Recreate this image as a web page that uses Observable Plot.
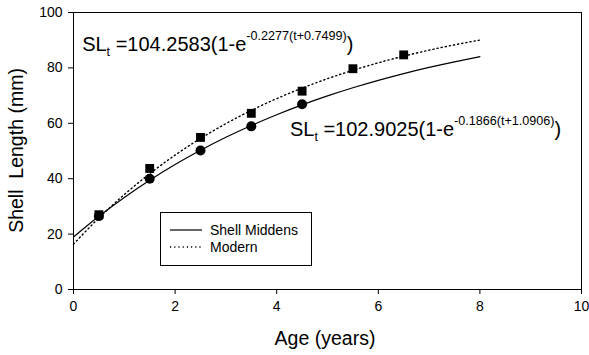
<!DOCTYPE html>
<html><head><meta charset="utf-8">
<script src="https://cdn.jsdelivr.net/npm/d3@7"></script>
<script src="https://cdn.jsdelivr.net/npm/@observablehq/plot@0.6"></script>
<style>html,body{margin:0;padding:0;overflow:hidden;background:#fff}</style>
</head><body><div id="chart"></div>
<script>
// Observed mean shell lengths (mm) by age (years)
const ages = [0.5, 1.5, 2.5, 3.5, 4.5, 5.5, 6.5];
const middensLength = [26.5, 40.0, 50.2, 58.9, 66.9];
const modernLength = [27.0, 43.7, 54.9, 63.6, 71.6, 79.7, 84.7];
// Fitted growth curves
const curveAges = [0, 0.5, 1, 1.5, 2, 2.5, 3, 3.5, 4, 4.5, 5, 5.5, 6, 6.5, 7, 7.5, 8];
const middensFit = [18.95, 26.43, 33.24, 39.45, 45.10, 50.24, 54.94, 59.21, 63.10, 66.65, 69.88, 72.82, 75.50, 77.94, 80.17, 82.19, 84.04];
const modernFit = [16.37, 25.82, 34.26, 41.80, 48.52, 54.52, 59.87, 64.67, 68.91, 72.71, 76.11, 79.14, 81.84, 84.25, 86.41, 88.33, 90.04];
const xTicks = [0, 2, 4, 6, 8, 10];
const yTicks = [0, 20, 40, 60, 80, 100];
const seriesNames = ["Shell Middens", "Modern"];
const xTitle = "Age (years)";
const yTitle = "Shell  Length (mm)";
const equations = [
  {coef: "104.2583", exp: "-0.2277(t+0.7499)", t: 0.18, v: 86.0},
  {coef: "102.9025", exp: "-0.1866(t+1.0906)", t: 4.27, v: 55.2}
];

const middensPts = middensLength.map((v, i) => ({age: ages[i], len: v}));
const modernPts = modernLength.map((v, i) => ({age: ages[i], len: v}));
const middensCurve = curveAges.map((a, i) => ({age: a, len: middensFit[i]}));
const modernCurve = curveAges.map((a, i) => ({age: a, len: modernFit[i]}));

const FONT = "'Liberation Sans', Arial, sans-serif";

const chart = Plot.plot({
  width: 589, height: 355,
  marginLeft: 73, marginRight: 8, marginTop: 12, marginBottom: 66,
  style: {fontFamily: FONT, fontSize: "14px", color: "black", background: "white"},
  x: {domain: [0, 10]},
  y: {domain: [0, 100]},
  marks: [
    Plot.frame({stroke: "black", strokeWidth: 1}),
    Plot.axisX({ticks: xTicks, tickSize: 5, tickPadding: 7, label: null, fontSize: 14}),
    Plot.axisY({ticks: yTicks, tickSize: 5, tickPadding: 6, label: null, fontSize: 14}),
    Plot.line(middensCurve, {x: "age", y: "len", stroke: "black", strokeWidth: 1.2, curve: "monotone-x"}),
    Plot.line(modernCurve, {x: "age", y: "len", stroke: "black", strokeWidth: 1.4, strokeDasharray: "1.2,3", curve: "monotone-x"}),
    Plot.dot(modernPts, {x: "age", y: "len", symbol: "square", r: 5, fill: "black", stroke: null}),
    Plot.dot(middensPts, {x: "age", y: "len", symbol: "circle", r: 5, fill: "black", stroke: null})
  ]
});
document.getElementById("chart").appendChild(chart);

const sx = chart.scale("x"), sy = chart.scale("y");
const svg = d3.select(chart);

// Axis titles
svg.append("text").attr("x", (sx.apply(0) + sx.apply(10)) / 2 - 2).attr("y", 345)
  .attr("text-anchor", "middle").attr("font-size", 19.5).attr("font-family", FONT).attr("fill", "black").text(xTitle);
svg.append("text").attr("transform", `translate(23,${(sy.apply(0) + sy.apply(100)) / 2}) rotate(-90)`)
  .attr("text-anchor", "middle").attr("font-size", 19.5).attr("font-family", FONT).attr("fill", "black")
  .style("white-space", "pre").text(yTitle);

// Equations
for (const eq of equations) {
  const t = svg.append("text").attr("x", sx.apply(eq.t)).attr("y", sy.apply(eq.v))
    .attr("text-anchor", "start")
    .attr("font-family", FONT).attr("font-size", 20).attr("fill", "black");
  t.append("tspan").text("SL");
  t.append("tspan").attr("font-size", 12.5).attr("dy", 5).text("t");
  t.append("tspan").attr("dy", -5).text("\u00a0=" + eq.coef + "(1-e");
  t.append("tspan").attr("font-size", 12.6).attr("dy", -11).text(eq.exp);
  t.append("tspan").attr("dy", 11).text(")");
}

// Legend
const lg = svg.append("g").attr("font-family", FONT).attr("font-size", 14).attr("text-anchor", "start");
lg.append("rect").attr("x", 160.5).attr("y", 212.5).attr("width", 151).attr("height", 53)
  .attr("fill", "white").attr("stroke", "black").attr("stroke-width", 1);
const rows = [{y: 230, dash: null, w: 1.2}, {y: 247, dash: "1.2,3", w: 1.4}];
rows.forEach((r, i) => {
  lg.append("line").attr("x1", 170).attr("x2", 202).attr("y1", r.y).attr("y2", r.y)
    .attr("stroke", "black").attr("stroke-width", r.w).attr("stroke-dasharray", r.dash);
  lg.append("text").attr("x", 210).attr("y", r.y).attr("dy", "0.35em").attr("fill", "black").text(seriesNames[i]);
});
</script>
</body></html>
